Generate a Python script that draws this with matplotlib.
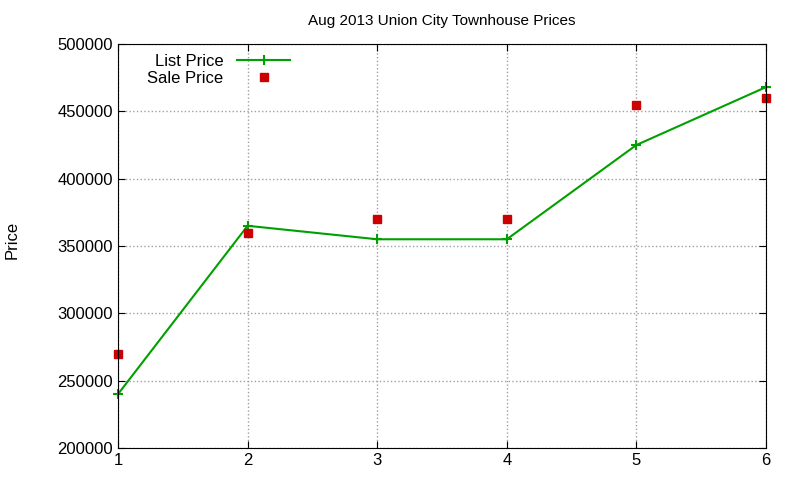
import matplotlib
matplotlib.use("Agg")
import matplotlib.pyplot as plt

x = [1, 2, 3, 4, 5, 6]
list_price = [240000, 365000, 355000, 355000, 425000, 468000]
sale_price = [270000, 360000, 370000, 370000, 455000, 460000]
yticks = [200000, 250000, 300000, 350000, 400000, 450000, 500000]

plt.rcParams['font.family'] = ['Liberation Sans', 'DejaVu Sans']
fig = plt.figure(figsize=(8, 4.8), dpi=100)
ax = fig.add_axes([118/800, 1-448/480, (766-118)/800, (448-44)/480])
ax.plot(x, list_price, color='#00a000', lw=1.5, marker='+', ms=7, mew=1.5, label='List Price', clip_on=False)
ax.plot(x, sale_price, ls='none', marker='s', color='#cc0000', ms=6, label='Sale Price', clip_on=False)
ax.set_xlim(1, 6)
ax.set_ylim(200000, 500000)
ax.set_xticks(x)
ax.set_yticks(yticks)
ax.set_yticklabels([str(v) for v in yticks])
ax.tick_params(labelsize=12, direction='in', length=5, top=True, right=True)
ax.grid(True, color='#a0a0a0', ls=':', lw=1)
ax.set_title('Aug 2013 Union City Townhouse Prices', fontsize=11, pad=14)
fig.text(12/800, 0.5, 'Price', rotation=90, fontsize=12, ha='center', va='center')
ax.legend(loc='upper left', frameon=False, markerfirst=False, fontsize=12,
          bbox_to_anchor=(0.03, 1.0), handlelength=3.2, labelspacing=0.1, borderaxespad=0.2)
fig.savefig('out.png', dpi=100)
